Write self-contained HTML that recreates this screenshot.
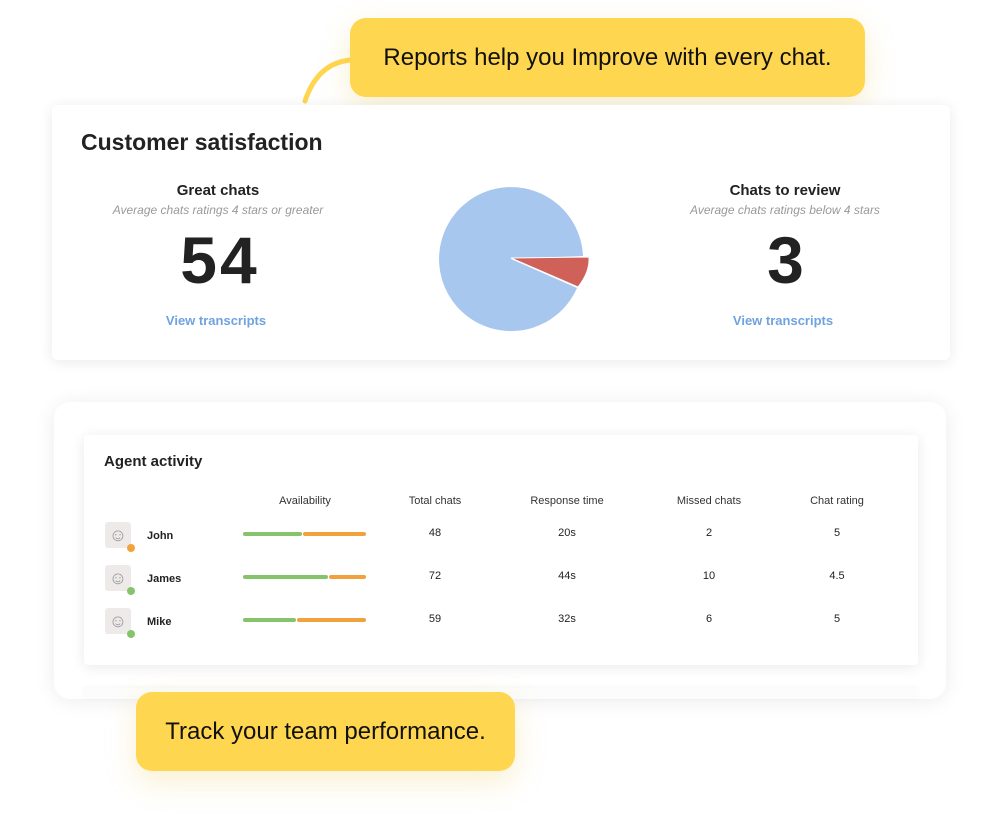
<!DOCTYPE html>
<html><head><meta charset="utf-8"><style>
*{margin:0;padding:0;box-sizing:border-box}
body{width:998px;height:834px;background:#fff;position:relative;overflow:hidden;font-family:"Liberation Sans",sans-serif;color:#222}
.abs{position:absolute}
.bubble{position:absolute;background:#FFD64F;border-radius:16px;box-shadow:0 10px 30px rgba(230,190,60,.25);display:flex;align-items:center;justify-content:center;font-size:24px;color:#111}
.card{position:absolute;background:#fff;border-radius:6px;box-shadow:0 2px 14px rgba(0,0,0,.09)}
.c{position:absolute;text-align:center;transform:translateX(-50%);white-space:nowrap}
.h{font-weight:bold;font-size:15px}
.sub{font-style:italic;font-size:12px;color:#999}
.big{font-weight:bold;font-size:66px;line-height:1;letter-spacing:3px}
.link{font-weight:bold;font-size:13px;color:#6fa3e0}
.th{font-size:11px;color:#333}
.td{font-size:11px;color:#222}
.av{position:absolute;width:26px;height:26px;background:#eeeaea;border-radius:3px;color:#999;font-size:18px;text-align:center;line-height:26px}
.dot{position:absolute;width:8px;height:8px;border-radius:50%;right:-4px;bottom:-4px}
.name{position:absolute;font-weight:bold;font-size:11px}
.bar{position:absolute;height:4px;border-radius:2px}
</style></head><body>
<svg class="abs" style="left:0;top:0" width="998" height="834">
<path d="M305 101 Q318 62 352 60" stroke="#FFD64F" stroke-width="5" fill="none" stroke-linecap="round"/>
<path d="M292 692 Q302 657 340 655" stroke="#FFD64F" stroke-width="5" fill="none" stroke-linecap="round"/>
</svg>
<div class="bubble" style="left:350px;top:18px;width:515px;height:79px">Reports help you Improve with every chat.</div>

<div class="card" style="left:52px;top:105px;width:898px;height:255px"></div>
<div class="abs" style="left:81px;top:129px;font-weight:bold;font-size:23px">Customer satisfaction</div>
<div class="c h" style="left:218px;top:182px">Great chats</div>
<div class="c sub" style="left:218px;top:203px">Average chats ratings 4 stars or greater</div>
<div class="c big" style="left:220px;top:227px">54</div>
<div class="c link" style="left:216px;top:313px">View transcripts</div>
<div class="c h" style="left:785px;top:182px">Chats to review</div>
<div class="c sub" style="left:785px;top:203px">Average chats ratings below 4 stars</div>
<div class="c big" style="left:787px;top:227px">3</div>
<div class="c link" style="left:783px;top:313px">View transcripts</div>
<svg class="abs" style="left:0;top:0" width="998" height="400">
<path d="M511 259 L583 256 A72 72 0 1 0 577 288 Z" fill="#a7c7ee"/>
<path d="M511 258 L589 257 Q590 272 578 287 Z" fill="#cf6159" stroke="#fff" stroke-width="1"/>
</svg>

<div class="abs" style="left:54px;top:402px;width:892px;height:297px;background:#fff;border-radius:16px;box-shadow:0 2px 20px rgba(0,0,0,.08)"></div>
<div class="card" style="left:84px;top:435px;width:834px;height:230px;border-radius:4px"></div>
<div class="abs" style="left:104px;top:453px;font-weight:bold;font-size:15px">Agent activity</div>
<div class="c th" style="left:305px;top:495px">Availability</div>
<div class="c th" style="left:435px;top:495px">Total chats</div>
<div class="c th" style="left:567px;top:495px">Response time</div>
<div class="c th" style="left:709px;top:495px">Missed chats</div>
<div class="c th" style="left:837px;top:495px">Chat rating</div>

<div class="av" style="left:105px;top:522px">☺<div class="dot" style="background:#f2a23a"></div></div>
<div class="name" style="left:147px;top:530px">John</div>
<div class="bar" style="left:243px;top:532px;width:59px;background:#86c46b"></div>
<div class="bar" style="left:303px;top:532px;width:63px;background:#f2a23a"></div>
<div class="c td" style="left:435px;top:527px">48</div><div class="c td" style="left:567px;top:527px">20s</div><div class="c td" style="left:709px;top:527px">2</div><div class="c td" style="left:837px;top:527px">5</div>

<div class="av" style="left:105px;top:565px">☺<div class="dot" style="background:#86c46b"></div></div>
<div class="name" style="left:147px;top:573px">James</div>
<div class="bar" style="left:243px;top:575px;width:85px;background:#86c46b"></div>
<div class="bar" style="left:329px;top:575px;width:37px;background:#f2a23a"></div>
<div class="c td" style="left:435px;top:570px">72</div><div class="c td" style="left:567px;top:570px">44s</div><div class="c td" style="left:709px;top:570px">10</div><div class="c td" style="left:837px;top:570px">4.5</div>

<div class="av" style="left:105px;top:608px">☺<div class="dot" style="background:#86c46b"></div></div>
<div class="name" style="left:147px;top:616px">Mike</div>
<div class="bar" style="left:243px;top:618px;width:53px;background:#86c46b"></div>
<div class="bar" style="left:297px;top:618px;width:69px;background:#f2a23a"></div>
<div class="c td" style="left:435px;top:613px">59</div><div class="c td" style="left:567px;top:613px">32s</div><div class="c td" style="left:709px;top:613px">6</div><div class="c td" style="left:837px;top:613px">5</div>

<div class="abs" style="left:84px;top:688px;width:834px;height:11px;background:#fcfcfc;box-shadow:0 -1px 4px rgba(0,0,0,.04)"></div>
<div class="bubble" style="left:136px;top:692px;width:379px;height:79px">Track your team performance.</div>
</body></html>
